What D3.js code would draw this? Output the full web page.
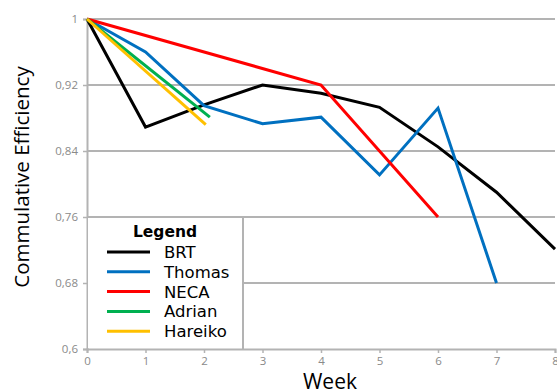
<!DOCTYPE html>
<html><head><meta charset="utf-8">
<script src="https://cdn.jsdelivr.net/npm/d3@7"></script>
<style>body{margin:0;background:#fff}svg{display:block}</style>
</head><body><svg id="c" width="557" height="392"></svg>
<script>
const seriesNames = ["BRT", "Thomas", "NECA", "Adrian", "Hareiko"];
const seriesColors = ["#000000", "#0070C0", "#FF0000", "#00B050", "#FFC000"];
const brtWeeks = [0, 1, 2, 3, 4, 5, 6, 7, 8];
const brtValues = [1, 0.869, 0.896, 0.92, 0.91, 0.893, 0.845, 0.79, 0.721];
const thomasWeeks = [0, 1, 2, 3, 4, 5, 6, 7];
const thomasValues = [1, 0.96, 0.895, 0.873, 0.881, 0.811, 0.892, 0.68];
const necaWeeks = [0, 4, 6];
const necaValues = [1, 0.92, 0.76];
const adrianWeeks = [0, 2.1];
const adrianValues = [1, 0.881];
const hareikoWeeks = [0, 2.03];
const hareikoValues = [1, 0.872];
const xTicks = [0, 1, 2, 3, 4, 5, 6, 7, 8];
const yTicks = [0.6, 0.68, 0.76, 0.84, 0.92, 1];
const yTickLabels = ["0,6", "0,68", "0,76", "0,84", "0,92", "1"];

const allWeeks = [brtWeeks, thomasWeeks, necaWeeks, adrianWeeks, hareikoWeeks];
const allValues = [brtValues, thomasValues, necaValues, adrianValues, hareikoValues];

const FONT = "'Open Sans', sans-serif";
const LFONT = "'DejaVu Sans', sans-serif";
const svg = d3.select("#c");
const m = {l: 87, r: 2, t: 19, b: 43};
const W = 557, H = 392;
const x = d3.scaleLinear().domain([0, 8]).range([m.l, W - m.r]);
const y = d3.scaleLinear().domain([0.6, 1]).range([H - m.b, m.t]);
const grid = "#b3b3b3";

// gridlines
svg.append("g").selectAll("line").data(yTicks.filter(d => d > 0.6)).join("line")
  .attr("x1", m.l).attr("x2", W - m.r)
  .attr("y1", d => y(d)).attr("y2", d => y(d))
  .attr("stroke", grid).attr("stroke-width", 2);

// axes
const xAxis = svg.append("g").attr("transform", `translate(0,${y(0.6)})`)
  .call(d3.axisBottom(x).tickValues(xTicks).tickFormat(d3.format("d")).tickSize(4).tickPadding(4));
const yAxis = svg.append("g").attr("transform", `translate(${m.l},0)`)
  .call(d3.axisLeft(y).tickValues(yTicks).tickFormat((d, i) => yTickLabels[i]).tickSize(4).tickPadding(5));
[xAxis, yAxis].forEach(a => {
  a.select(".domain").attr("stroke", grid).attr("stroke-width", 2);
  a.selectAll(".tick line").attr("stroke", grid).attr("stroke-width", 1.5);
  a.selectAll(".tick text").attr("fill", "#8a8a8a").attr("font-family", FONT).attr("font-size", 11.5);
});

// lines
const line = d3.line().x(d => x(d[0])).y(d => y(d[1]));
seriesNames.forEach((n, i) => {
  const pts = allWeeks[i].map((w, j) => [w, allValues[i][j]]);
  svg.append("path").datum(pts).attr("d", line)
    .attr("fill", "none").attr("stroke", seriesColors[i]).attr("stroke-width", 3)
    .attr("stroke-linejoin", "miter");
});

// legend
const lg = svg.append("g");
lg.append("rect").attr("x", x(0) + 1).attr("y", y(0.76)).attr("width", 243 - x(0) - 1).attr("height", y(0.6) - y(0.76) - 1)
  .attr("fill", "#fff");
lg.append("line").attr("x1", m.l).attr("x2", 243).attr("y1", y(0.76)).attr("y2", y(0.76)).attr("stroke", grid).attr("stroke-width", 2);
lg.append("line").attr("x1", 243).attr("x2", 243).attr("y1", y(0.76)).attr("y2", y(0.6)).attr("stroke", grid).attr("stroke-width", 2);
lg.append("text").attr("x", 165).attr("y", 237).attr("text-anchor", "middle")
  .attr("font-family", LFONT).attr("font-weight", "bold").attr("font-size", 15.5).text("Legend");
seriesNames.forEach((n, i) => {
  const yy = 252 + i * 19.8;
  lg.append("line").attr("x1", 107).attr("x2", 150).attr("y1", yy).attr("y2", yy)
    .attr("stroke", seriesColors[i]).attr("stroke-width", 3);
  lg.append("text").attr("x", 164).attr("y", yy + 6).attr("font-family", LFONT)
    .attr("font-size", 16.5).attr("fill", "#000").text(n);
});

// axis titles
svg.append("text").attr("transform", "translate(29,177) rotate(-90)").attr("text-anchor", "middle")
  .attr("font-family", FONT).attr("font-size", 20.5).text("Commulative Efficiency");
svg.append("text").attr("x", 330).attr("y", 389).attr("text-anchor", "middle")
  .attr("font-family", FONT).attr("font-size", 21).text("Week");
</script></body></html>
